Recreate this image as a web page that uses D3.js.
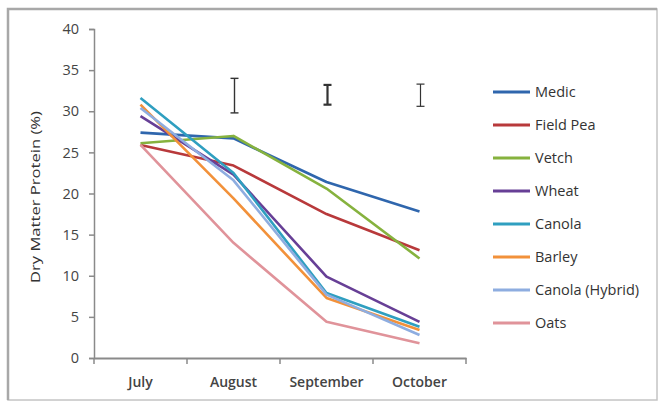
<!DOCTYPE html>
<html><head><meta charset="utf-8">
<script src="https://cdn.jsdelivr.net/npm/d3@7/dist/d3.min.js"></script>
<style>body{margin:0;background:#fff}svg{display:block}</style>
</head><body>
<svg id="c" width="664" height="403"></svg>
<script>
const months = ["July","August","September","October"];
const seriesNames = ["Medic","Field Pea","Vetch","Wheat","Canola","Barley","Canola (Hybrid)","Oats"];
const medic = [27.4,26.7,21.4,17.8];
const fieldPea = [25.9,23.4,17.5,13.1];
const vetch = [26.1,27.0,20.6,12.1];
const wheat = [29.4,22.3,9.9,4.4];
const canola = [31.6,22.5,7.9,3.8];
const barley = [30.8,19.4,7.3,3.4];
const canolaHybrid = [30.4,21.6,7.7,2.8];
const oats = [25.9,14.0,4.4,1.8];
const errMonths = ["August","September","October"];
const errLow = [29.8,30.8,30.6];
const errHigh = [34.0,33.2,33.3];
const yTicks = [0,5,10,15,20,25,30,35,40];
const colors = ["#2f66ad","#b8393b","#86b23e","#673f96","#2f9fc0","#f2913a","#8eade0","#e0939a"];
const allSeries = [medic,fieldPea,vetch,wheat,canola,barley,canolaHybrid,oats];

const svg = d3.select("#c");
const font = "'Open Sans', 'DejaVu Sans', sans-serif";
// outer frame
svg.append("rect").attr("x",8).attr("y",9).attr("width",649).attr("height",391)
  .attr("fill","#fff").attr("stroke","#c4c4c4").attr("stroke-width",1.5);
svg.append("path").attr("d","M8,400V9H657").attr("fill","none").attr("stroke","#a8a8a8").attr("stroke-width",2.5);

const L=94,R=466,T=29,B=358;
const x = d3.scaleBand().domain(months).range([L,R]);
const y = d3.scaleLinear().domain([0,40]).range([B,T]);

// y axis
const ya = svg.append("g").attr("transform",`translate(${L},0)`)
  .call(d3.axisLeft(y).tickValues(yTicks).tickSize(5).tickPadding(10));
ya.select(".domain").attr("stroke","#8a8a8a").attr("stroke-width",1.5);
ya.selectAll(".tick line").attr("stroke","#8a8a8a").attr("stroke-width",1.5);
ya.selectAll(".tick text").attr("fill","#444").style("font-family",font).style("font-size","14.5px");

// x axis
const xa = svg.append("g").attr("transform",`translate(0,${B})`)
  .call(d3.axisBottom(x).tickSize(0).tickPadding(19).tickSizeOuter(0));
xa.select(".domain").attr("stroke","#8a8a8a").attr("stroke-width",2);
xa.selectAll(".tick text").attr("fill","#444").style("font-family",font).style("font-size","14px").style("font-weight","600");
// x tick marks at band boundaries
const bounds = months.map(m=>x(m)).concat([x(months[months.length-1])+x.bandwidth()]);
svg.append("g").selectAll("line").data(bounds).join("line")
  .attr("x1",d=>d).attr("x2",d=>d).attr("y1",B).attr("y2",B+6)
  .attr("stroke","#8a8a8a").attr("stroke-width",1.5);

// y title
svg.append("text").attr("transform",`translate(40,197) rotate(-90)`)
  .attr("text-anchor","middle").attr("fill","#333")
  .attr("textLength",172).attr("lengthAdjust","spacingAndGlyphs")
  .style("font-family",font).style("font-size","13.5px").text("Dry Matter Protein (%)");

const cx = m => x(m)+x.bandwidth()/2;
const line = d3.line().x((d,i)=>cx(months[i])).y(d=>y(d));
svg.append("g").selectAll("path").data(allSeries).join("path")
  .attr("d",line).attr("fill","none").attr("stroke",(d,i)=>colors[i])
  .attr("stroke-width",2.6).attr("stroke-linejoin","round");

// error bars
const eg = svg.append("g").attr("stroke","#333");
const errW = [1.4,2.2,1.2];
errMonths.forEach((m,i)=>{
  const xx = cx(m)+1;
  eg.append("line").attr("x1",xx).attr("x2",xx).attr("y1",y(errLow[i])).attr("y2",y(errHigh[i])).attr("stroke-width",errW[i]);
  eg.append("line").attr("x1",xx-4).attr("x2",xx+4).attr("y1",y(errLow[i])).attr("y2",y(errLow[i])).attr("stroke-width",errW[i]);
  eg.append("line").attr("x1",xx-4).attr("x2",xx+4).attr("y1",y(errHigh[i])).attr("y2",y(errHigh[i])).attr("stroke-width",errW[i]);
});

// legend
const lg = svg.append("g");
seriesNames.forEach((n,i)=>{
  const yy = 92 + i*33;
  lg.append("line").attr("x1",493).attr("x2",530).attr("y1",yy).attr("y2",yy)
    .attr("stroke",colors[i]).attr("stroke-width",3);
  lg.append("text").attr("x",535).attr("y",yy+5).attr("fill","#333")
    .style("font-family",font).style("font-size","14.5px").text(n);
});
</script>
</body></html>
